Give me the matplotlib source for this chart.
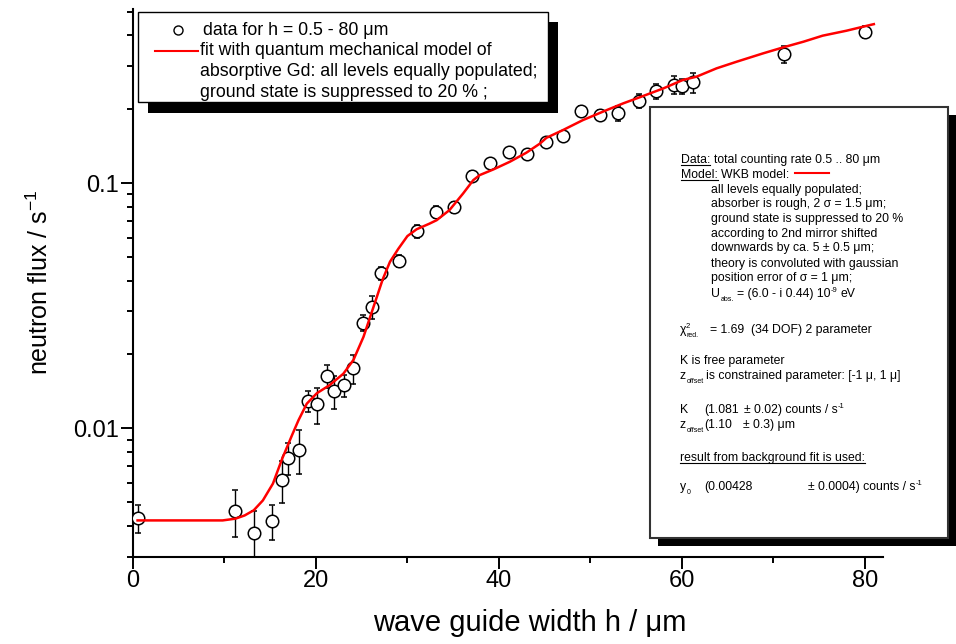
import matplotlib
matplotlib.use('Agg')
import matplotlib.pyplot as plt
from matplotlib.patches import Rectangle
from matplotlib.ticker import LogLocator, NullFormatter, FixedLocator

plt.rcParams['font.family'] = ['Liberation Sans', 'DejaVu Sans']
plt.rcParams['mathtext.fontset'] = 'custom'
plt.rcParams['mathtext.rm'] = 'Liberation Sans'
plt.rcParams['mathtext.it'] = 'Liberation Sans:italic'
plt.rcParams['mathtext.bf'] = 'Liberation Sans:bold'

# ---------------- data ----------------
h = [0.5, 11.2, 13.2, 15.2, 16.3, 17.0, 18.2, 19.1, 20.1, 21.2, 22.0, 23.1,
     24.0, 25.1, 26.1, 27.1, 29.1, 31.0, 33.1, 35.1, 37.1, 39.0, 41.1, 43.1,
     45.1, 47.0, 49.0, 51.1, 53.0, 55.3, 57.2, 59.1, 60.0, 61.2, 71.2, 80.0]
flux = [0.00430, 0.00460, 0.00374, 0.00418, 0.00618, 0.00759, 0.00818,
        0.01292, 0.01254, 0.01635, 0.01419, 0.01497, 0.01754, 0.0270, 0.0313,
        0.0428, 0.0482, 0.0637, 0.0764, 0.0796, 0.1068, 0.1210, 0.1334,
        0.1309, 0.1466, 0.1560, 0.1972, 0.1895, 0.1925, 0.2169, 0.2373,
        0.2512, 0.2490, 0.2577, 0.3350, 0.4146]
flux_err = [0.00055, 0.0010, 0.00086, 0.00067, 0.0012, 0.00115, 0.0017,
            0.0013, 0.0021, 0.0017, 0.0022, 0.0015, 0.0024, 0.0021, 0.0033,
            0.0026, 0.0029, 0.0039, 0.004, 0.004, 0.005, 0.005, 0.006, 0.006,
            0.006, 0.007, 0.009, 0.009, 0.013, 0.014, 0.017, 0.021, 0.018,
            0.024, 0.026, 0.024]

fit_h = [0.5, 5.0, 9.8, 11.2, 12.2, 13.2, 14.2, 15.3, 16.3, 17.4, 18.1, 19.0,
         20.1, 21.5, 23.0, 24.1, 25.2, 26.3, 27.3, 28.1, 29.0, 30.0, 31.0,
         32.4, 33.2, 34.6, 36.1, 37.2, 37.9, 39.4, 41.2, 43.0, 44.5, 45.2,
         47.0, 49.2, 51.8, 53.6, 55.4, 58.0, 60.1, 61.6, 63.8, 66.0, 68.9,
         71.1, 73.3, 75.4, 78.0, 80.6, 81.0]
fit_flux = [0.00421, 0.00421, 0.00421, 0.00428, 0.00441, 0.00463, 0.00508,
            0.00595, 0.0075, 0.0094, 0.0108, 0.0126, 0.0139, 0.0150, 0.0167,
            0.0190, 0.0236, 0.0313, 0.0405, 0.0478, 0.0539, 0.0608, 0.0648,
            0.0683, 0.0706, 0.0776, 0.0908, 0.1028, 0.1078, 0.1137, 0.1222,
            0.1330, 0.1450, 0.1530, 0.1645, 0.1808, 0.1986, 0.2115, 0.2239,
            0.2435, 0.2633, 0.2716, 0.2938, 0.3127, 0.3383, 0.3579, 0.3773,
            0.3993, 0.4183, 0.4415, 0.4450]

x_major = [0, 20, 40, 60, 80]
x_minor = [10, 30, 50, 70]
x_ticklabels = ['0', '20', '40', '60', '80']
y_major = [0.01, 0.1]
y_ticklabels = ['0.01', '0.1']

legend_lines = ['data for h = 0.5 - 80 \u03bcm',
                'fit with quantum mechanical model of',
                'absorptive Gd: all levels equally populated;',
                'ground state is suppressed to 20 % ;']

# ---------------- figure ----------------
W, H = 956, 644
fig = plt.figure(figsize=(W / 100, H / 100), dpi=100)
L, R, T, B = 133, 883, 9, 556.5
ax = fig.add_axes([L / W, 1 - B / H, (R - L) / W, (B - T) / H])
ax.set_yscale('log')
ax.set_xlim(0, 82)
ax.set_ylim(0.003, 0.513)

for s in ['top', 'right']:
    ax.spines[s].set_visible(False)
for s in ['left', 'bottom']:
    ax.spines[s].set_linewidth(1.5)

ax.xaxis.set_major_locator(FixedLocator(x_major))
ax.xaxis.set_minor_locator(FixedLocator(x_minor))
ax.set_xticklabels(x_ticklabels)
ax.yaxis.set_major_locator(FixedLocator(y_major))
ax.set_yticklabels(y_ticklabels)
ax.yaxis.set_minor_locator(LogLocator(base=10, subs=[2, 3, 4, 5, 6, 7, 8, 9]))
ax.yaxis.set_minor_formatter(NullFormatter())

ax.tick_params(which='major', direction='out', length=8.5, width=1.4,
               labelsize=17, pad=1.5, color='black')
ax.tick_params(which='minor', direction='out', length=4.5, width=1.4)

ax.errorbar(h, flux, yerr=flux_err, fmt='o', mfc='white', mec='black',
            ms=9, mew=1.1, ecolor='black', elinewidth=1, capsize=2.5,
            capthick=1, zorder=3)
ax.plot(fit_h, fit_flux, color='red', lw=1.8, zorder=4)

ax.set_xlabel('wave guide width h / \u03bcm', fontsize=21)
ax.xaxis.set_label_coords(0.529, -0.095)
ax.set_ylabel('neutron flux / s$^{-1}$', fontsize=18)
ax.yaxis.set_label_coords(-0.107, 0.5)

# ---------------- overlay (pixel coords) ----------------
ov = fig.add_axes([0, 0, 1, 1], zorder=10)
ov.set_xlim(0, W)
ov.set_ylim(H, 0)
ov.axis('off')
ov.patch.set_alpha(0)

# legend box
ov.add_patch(Rectangle((148, 22), 410, 91, fc='black', ec='none'))
ov.add_patch(Rectangle((138, 12), 410, 90, fc='white', ec='black', lw=1))
ov.plot([178], [30], 'o', mfc='white', mec='black', ms=6.5, mew=1)
ov.plot([155, 198], [50.7, 50.7], color='red', lw=1.5)
for txt, y, x in zip(legend_lines, [34.5, 55.2, 76.0, 96.8], [203, 200, 200, 200]):
    ov.text(x, y, txt, fontsize=12.8, va='baseline', ha='left')

# info box
ov.add_patch(Rectangle((658, 115), 300, 431, fc='black', ec='none'))
ov.add_patch(Rectangle((650, 107), 298, 431, fc='white', ec='#333333', lw=1.5))

fs = 8.8
renderer = fig.canvas.get_renderer()


def put(x, y, s, underline=False, size=fs):
    t = ov.text(x, y, s, fontsize=size, va='baseline', ha='left')
    bb = t.get_window_extent(renderer)
    if underline:
        ov.plot([bb.x0, bb.x1], [y + 1.8, y + 1.8], color='black', lw=0.8)
    return bb.x1


def sub(x, y, s):
    return put(x + 0.5, y + 3.5, s, size=5.0)


def sup(x, y, s):
    return put(x + 0.5, y - 5.5, s, size=5.5)


x1 = put(681, 163, 'Data:', underline=True)
put(x1 + 3.3, 163, 'total counting rate 0.5 .. 80 \u03bcm')
x1 = put(681, 178, 'Model:', underline=True)
put(x1 + 3.3, 178, 'WKB model:')
ov.plot([795, 829], [172.7, 172.7], color='red', lw=1.5)

info_lines = ['all levels equally populated;',
              'absorber is rough, 2 \u03c3 = 1.5 \u03bcm;',
              'ground state is suppressed to 20 %',
              'according to 2nd mirror shifted',
              'downwards by ca. 5 \u00b1 0.5 \u03bcm;',
              'theory is convoluted with gaussian',
              'position error of \u03c3 = 1 \u03bcm;']
for s, y in zip(info_lines, [193, 207.3, 222.3, 236.7, 251.3, 266.7, 281.3]):
    put(711, y, s)
x1 = put(711, 297.3, 'U')
x1 = sub(x1, 297.3, 'abs.')
x1 = put(x1 + 3, 297.3, '= (6.0 - i 0.44) 10')
x1 = sup(x1, 297.3, '-9')
put(x1 + 3, 297.3, 'eV')

x1 = put(680, 333, '\u03c7')
sup(x1 - 1, 333, '2')
sub(x1, 333, 'red.')
put(710, 333, '= 1.69  (34 DOF) 2 parameter')

put(680, 364, 'K is free parameter')
x1 = put(680, 379, 'z')
x1 = sub(x1, 379, 'offset')
put(x1 + 2.5, 379, 'is constrained parameter: [-1 \u03bc, 1 \u03bc]')

put(680, 413, 'K')
x1 = put(704, 413, '(1.081')
x1 = put(max(737, x1 + 5), 413, '\u00b1 0.02) counts / s')
sup(x1, 413, '-1')

x1 = put(680, 428.3, 'z')
sub(x1, 428.3, 'offset')
x1 = put(704, 428.3, '(1.10')
put(max(743, x1 + 8), 428.3, '\u00b1 0.3) \u03bcm')

put(680, 460.7, 'result from background fit is used:', underline=True)

x1 = put(680, 490, 'y')
sub(x1, 490, '0')
put(704, 490, '(0.00428')
x1 = put(808, 490, '\u00b1 0.0004) counts / s')
sup(x1, 490, '-1')

fig.savefig('out.png', dpi=100)
